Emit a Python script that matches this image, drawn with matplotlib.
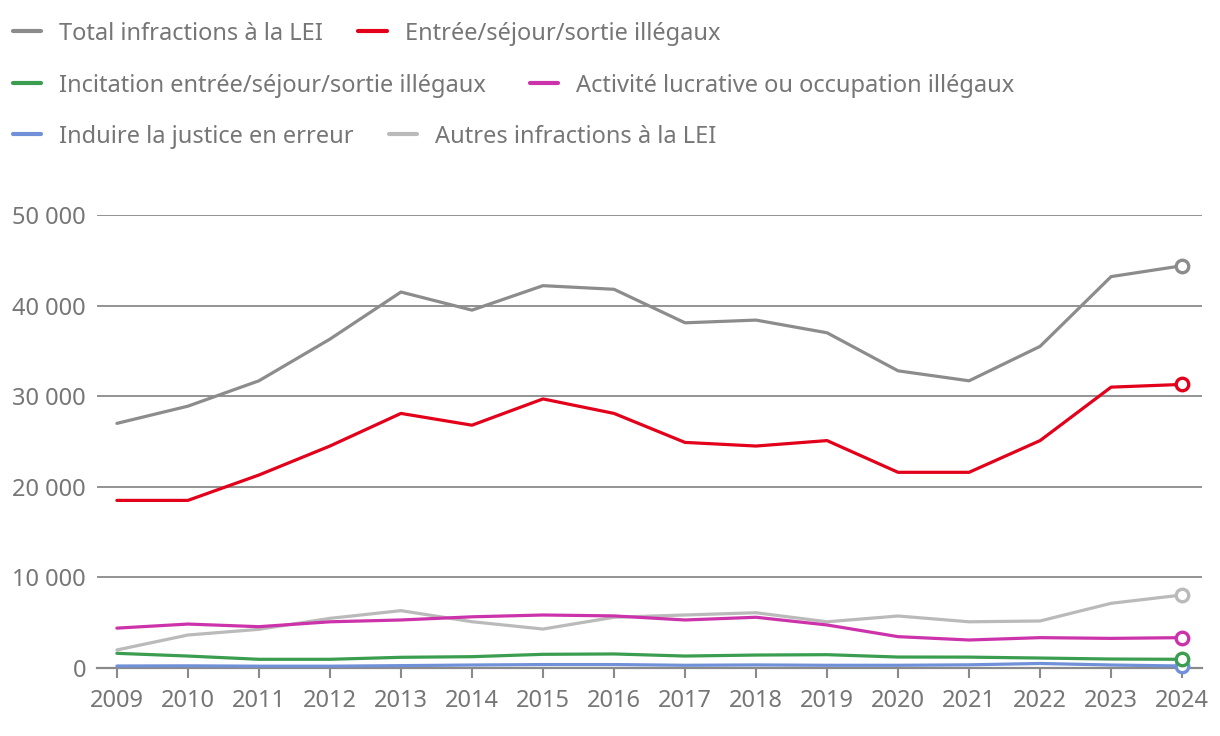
import numpy as np
import matplotlib.pyplot as plt

plt.rcParams['font.family'] = ['Noto Sans', 'DejaVu Sans']

years = np.arange(2009, 2025)

total = [27000, 28900, 31700, 36300, 41500, 39500, 42200, 41800,
         38100, 38400, 37000, 32800, 31700, 35500, 43200, 44400]
entree = [18500, 18500, 21300, 24500, 28100, 26800, 29700, 28100,
          24900, 24500, 25100, 21600, 21600, 25100, 31000, 31300]
incitation = [1620, 1320, 960, 960, 1180, 1250, 1510, 1550,
              1320, 1430, 1470, 1210, 1200, 1100, 990, 960]
activite = [4400, 4850, 4560, 5100, 5300, 5650, 5850, 5750,
            5300, 5600, 4750, 3460, 3090, 3350, 3270, 3350]
induire = [220, 240, 200, 200, 260, 330, 380, 380,
           300, 340, 300, 300, 350, 500, 330, 220]
autres = [1990, 3640, 4270, 5480, 6330, 5110, 4300, 5600,
          5850, 6100, 5100, 5740, 5100, 5190, 7140, 8060]

labels = ["Total infractions à la LEI", "Entrée/séjour/sortie illégaux",
          "Incitation entrée/séjour/sortie illégaux", "Activité lucrative ou occupation illégaux",
          "Induire la justice en erreur", "Autres infractions à la LEI"]
series = [total, entree, incitation, activite, induire, autres]
colors = ["#8c8c8c", "#e2001a", "#3a9d4f", "#cc33aa", "#7090d8", "#bababa"]
zorders = [6, 7, 4, 5, 3, 2]

text_col = "#767676"
grid_col = "#8a8a8a"
fs = 17

fig = plt.figure(figsize=(12.2, 7.36), dpi=100)
ax = fig.add_axes([97/1220, 1 - 668/736, (1202-97)/1220, (668-215)/736])

handles = []
for vals, lab, col, z in zip(series, labels, colors, zorders):
    h, = ax.plot(years, vals, color=col, lw=2.3, label=lab, zorder=z,
                 solid_joinstyle='round', solid_capstyle='round')
    ax.plot(years[-1], vals[-1], 'o', ms=9, mfc='white', mec=col, mew=2.4,
            zorder=z + 10, clip_on=False)
    handles.append(h)

ax.set_xlim(2008.72, 2024.28)
ax.set_ylim(0, 50000)
ax.set_xticks(years)
ax.set_xticklabels([str(y) for y in years])
ax.set_yticks(np.arange(0, 50001, 10000))
ax.set_yticklabels(["0" if v == 0 else f"{v:,}".replace(",", " ")
                    for v in range(0, 50001, 10000)])
ax.grid(axis='y', color=grid_col, lw=1.3)
ax.set_axisbelow(True)
for s in ['top', 'right', 'left']:
    ax.spines[s].set_visible(False)
ax.spines['bottom'].set_color(grid_col)
ax.spines['bottom'].set_linewidth(1.6)
ax.tick_params(axis='x', length=7, width=1.5, color=grid_col, labelsize=fs,
               labelcolor=text_col, pad=8)
ax.tick_params(axis='y', length=0, labelsize=fs, labelcolor=text_col, pad=8)

# legend: three rows, two entries each (flow layout)
row_y = [1 - 17/736, 1 - 69/736, 1 - 120/736]
col_space = [1.5, 1.85, 1.5]
for i, y in enumerate(row_y):
    leg = fig.legend(handles[2*i:2*i+2], labels[2*i:2*i+2], loc='upper left',
                     bbox_to_anchor=(8/1220, y), ncol=2, frameon=False,
                     fontsize=fs, labelcolor=text_col, handlelength=1.2,
                     handletextpad=0.76, columnspacing=col_space[i],
                     borderaxespad=0, borderpad=0.2)
    for lh in leg.legend_handles:
        lh.set_linewidth(3)
        lh.set_solid_capstyle('round')

fig.savefig("out.png", dpi=100)
